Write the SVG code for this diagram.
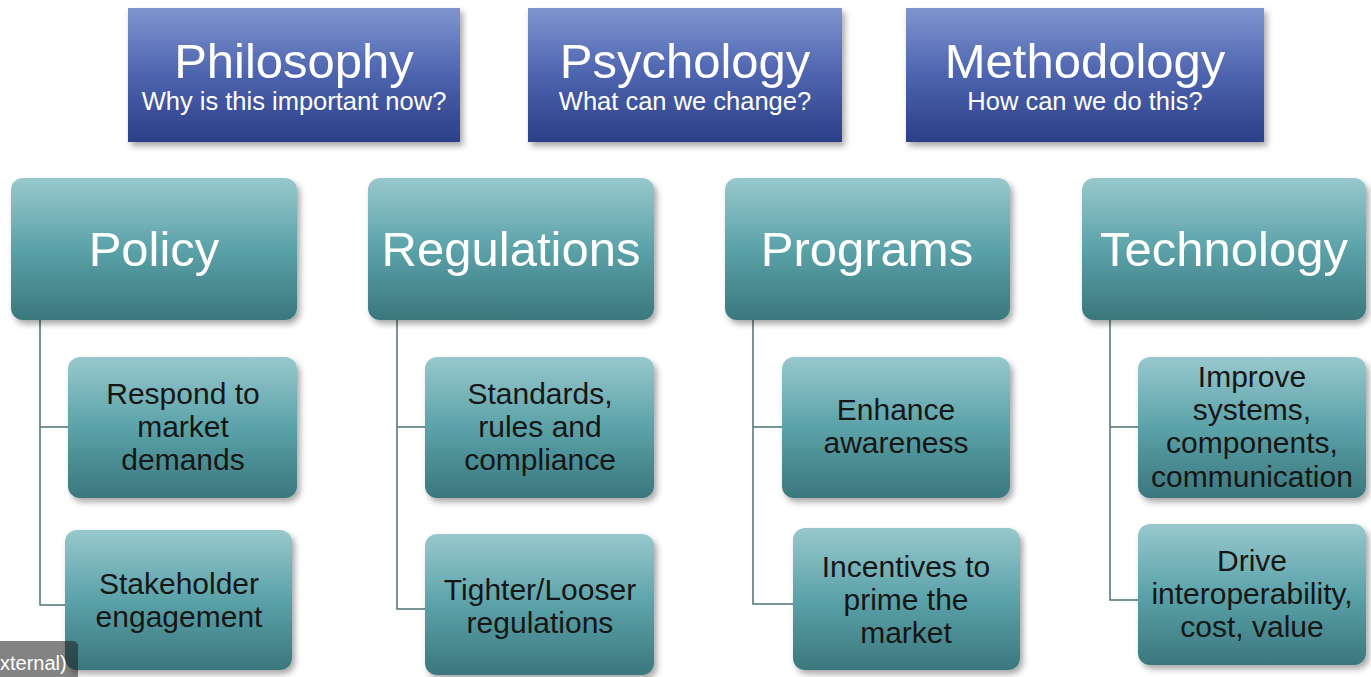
<svg xmlns="http://www.w3.org/2000/svg" width="1371" height="677" viewBox="0 0 1371 677">
<defs>
<linearGradient id="blue" x1="0" y1="0" x2="0" y2="1">
<stop offset="0" stop-color="#8095d0"/>
<stop offset="0.5" stop-color="#4d63ae"/>
<stop offset="1" stop-color="#2c3f88"/>
</linearGradient>
<linearGradient id="teal" x1="0" y1="0" x2="0" y2="1">
<stop offset="0" stop-color="#97c8cd"/>
<stop offset="0.5" stop-color="#5ba2a9"/>
<stop offset="1" stop-color="#3a777d"/>
</linearGradient>
<filter id="sh" x="-10%" y="-10%" width="125%" height="130%">
<feDropShadow dx="3" dy="4" stdDeviation="3" flood-color="#000" flood-opacity="0.35"/>
</filter>
</defs>
<style>
.hdr{fill:url(#blue);filter:url(#sh)}
.box{fill:url(#teal);filter:url(#sh)}
.ht{font-family:"Liberation Sans",Arial,sans-serif;fill:#fff;text-anchor:middle}
.big{font-size:49px}
.small{font-size:25.5px}
.st{font-family:"Liberation Sans",Arial,sans-serif;font-size:30px;fill:#161616;text-anchor:middle}
.conn{stroke:#4a7377;stroke-width:1.5;fill:none}
</style>
<rect width="1371" height="677" fill="#fff"/>
<g id="philosophy"><rect class="hdr" x="128" y="8" width="332" height="134"/><text class="ht big" x="294" y="78">Philosophy</text><text class="ht small" x="294" y="110">Why is this important now?</text></g>
<g id="psychology"><rect class="hdr" x="528" y="8" width="314" height="134"/><text class="ht big" x="685" y="78">Psychology</text><text class="ht small" x="685" y="110">What can we change?</text></g>
<g id="methodology"><rect class="hdr" x="906" y="8" width="358" height="134"/><text class="ht big" x="1085" y="78">Methodology</text><text class="ht small" x="1085" y="110">How can we do this?</text></g>
<g id="connectors">
<path class="conn" d="M40 320 V605 H65 M40 427 H68"/>
<path class="conn" d="M397 320 V609 H425 M397 427 H425"/>
<path class="conn" d="M753 320 V604 H793 M753 427 H782"/>
<path class="conn" d="M1110 320 V600 H1138 M1110 427 H1138"/>
</g>
<g id="policy"><rect class="box" x="11" y="178" width="286" height="142" rx="12"/><text class="ht big" x="154" y="266">Policy</text></g>
<g id="regulations"><rect class="box" x="368" y="178" width="286" height="142" rx="12"/><text class="ht big" x="511" y="266">Regulations</text></g>
<g id="programs"><rect class="box" x="725" y="178" width="285" height="142" rx="12"/><text class="ht big" x="867" y="266">Programs</text></g>
<g id="technology"><rect class="box" x="1082" y="178" width="284" height="142" rx="12"/><text class="ht big" x="1224" y="266">Technology</text></g>
<g id="respond"><rect class="box" x="68" y="357" width="229" height="141" rx="12"/><text class="st" x="183" y="404">Respond to</text><text class="st" x="183" y="437">market</text><text class="st" x="183" y="470">demands</text></g>
<g id="stakeholder"><rect class="box" x="65" y="530" width="227" height="140" rx="12"/><text class="st" x="179" y="594">Stakeholder</text><text class="st" x="179" y="627">engagement</text></g>
<g id="standards"><rect class="box" x="425" y="357" width="229" height="141" rx="12"/><text class="st" x="540" y="404">Standards,</text><text class="st" x="540" y="437">rules and</text><text class="st" x="540" y="470">compliance</text></g>
<g id="tighter"><rect class="box" x="425" y="534" width="229" height="141" rx="12"/><text class="st" x="540" y="600">Tighter/Looser</text><text class="st" x="540" y="633">regulations</text></g>
<g id="enhance"><rect class="box" x="782" y="357" width="228" height="141" rx="12"/><text class="st" x="896" y="420">Enhance</text><text class="st" x="896" y="453">awareness</text></g>
<g id="incentives"><rect class="box" x="793" y="528" width="227" height="142" rx="12"/><text class="st" x="906" y="577">Incentives to</text><text class="st" x="906" y="610">prime the</text><text class="st" x="906" y="643">market</text></g>
<g id="improve"><rect class="box" x="1138" y="357" width="228" height="141" rx="12"/><text class="st" x="1252" y="387">Improve</text><text class="st" x="1252" y="420">systems,</text><text class="st" x="1252" y="453">components,</text><text class="st" x="1252" y="487">communication</text></g>
<g id="drive"><rect class="box" x="1138" y="524" width="228" height="141" rx="12"/><text class="st" x="1252" y="571">Drive</text><text class="st" x="1252" y="604">interoperability,</text><text class="st" x="1252" y="637">cost, value</text></g>
<g id="tag"><rect x="-10" y="641" width="88" height="46" rx="5" fill="#1e1e1e" fill-opacity="0.55"/><text x="0" y="670" font-family="'Liberation Sans',Arial,sans-serif" font-size="20" fill="#fff">xternal)</text></g>
</svg>
